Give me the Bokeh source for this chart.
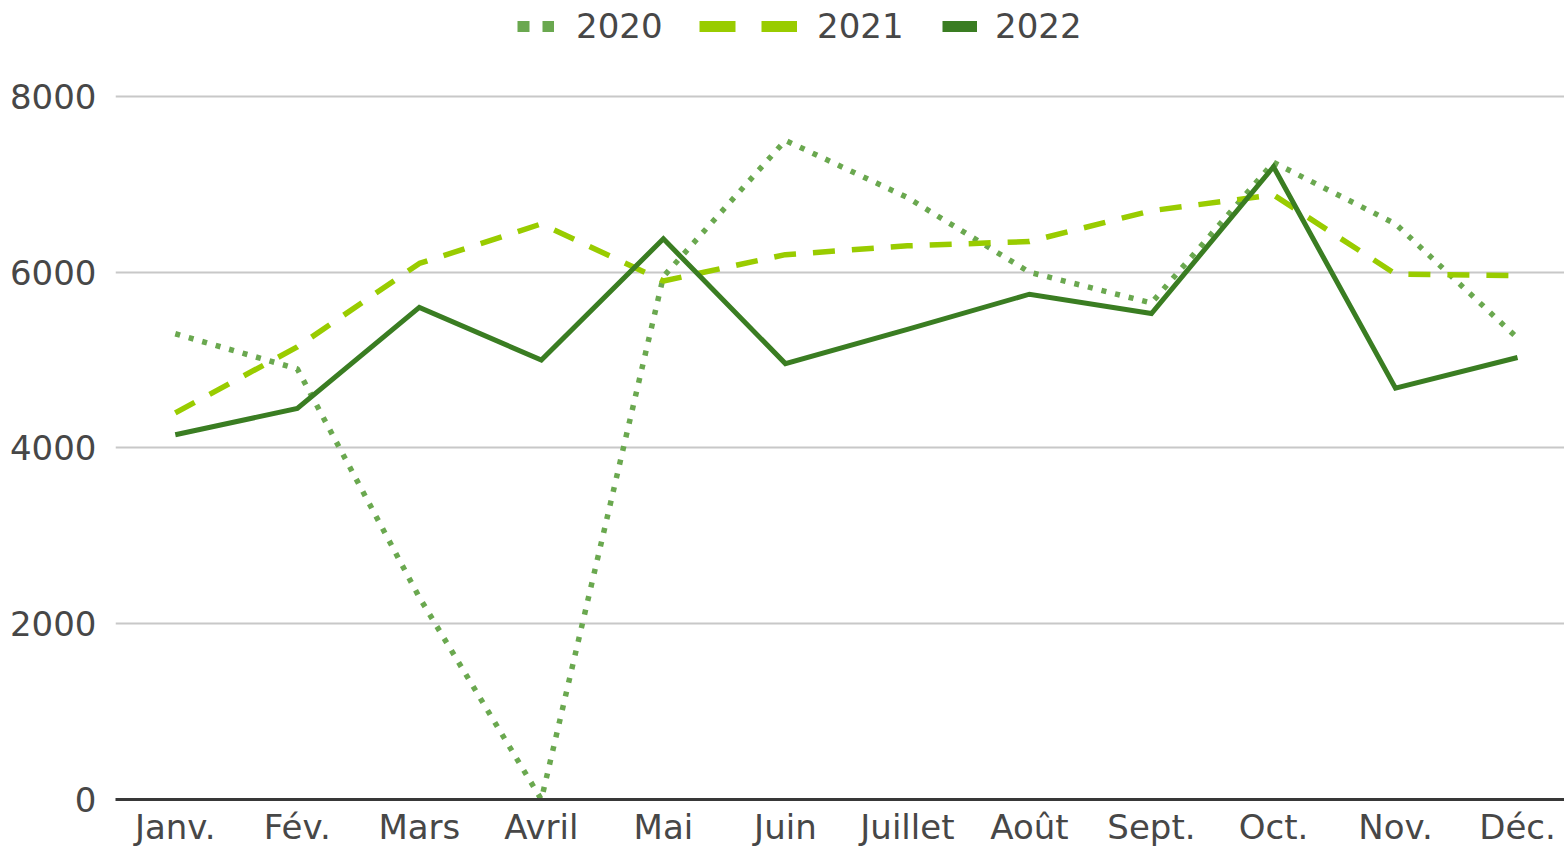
from bokeh.plotting import figure
from bokeh.models import Range1d, FixedTicker, Legend, LegendItem
from bokeh.embed import file_html
from bokeh.resources import INLINE

months = ["Janv.", "Fév.", "Mars", "Avril", "Mai", "Juin", "Juillet", "Août", "Sept.", "Oct.", "Nov.", "Déc."]
y2020 = [5300, 4900, 2300, 0, 5950, 7500, 6850, 6000, 5650, 7250, 6550, 5250]
y2021 = [4400, 5150, 6100, 6550, 5900, 6200, 6300, 6350, 6700, 6880, 5980, 5960]
y2022 = [4150, 4450, 5600, 5000, 6380, 4960, 5350, 5750, 5530, 7200, 4680, 5030]
y_ticks = [0, 2000, 4000, 6000, 8000]
series_names = ["2020", "2021", "2022"]

c2020 = "#6AA84F"
c2021 = "#99CC00"
c2022 = "#3A7D22"
FONT = "DejaVu Sans"
FS = "34px"
TXT = "#474747"

x = list(range(len(months)))

p = figure(width=1564, height=849, output_backend="svg", toolbar_location=None,
           x_range=Range1d(-0.49, 11.385), y_range=Range1d(0, 9092),
           min_border_left=115, min_border_right=0, min_border_top=0, min_border_bottom=0)
p.outline_line_color = None
p.background_fill_color = "white"

r1 = p.line(x, y2020, line_color=c2020, line_width=5.5, line_dash="5 9", line_cap="butt")
r2 = p.line(x, y2021, line_color=c2021, line_width=5.5, line_dash="22 17", line_cap="butt")
r3 = p.line(x, y2022, line_color=c2022, line_width=5, line_join="miter")

# legend proxies (drawn outside the visible range)
l1 = p.line([-20, -19], [-5000, -5000], line_color=c2020, line_width=11, line_dash="12 13")
l2 = p.line([-20, -19], [-5000, -5000], line_color=c2021, line_width=11, line_dash="36 26")
l3 = p.line([-20, -19], [-5000, -5000], line_color=c2022, line_width=11)

# axes
p.xaxis.ticker = FixedTicker(ticks=x)
p.xaxis.major_label_overrides = {i: m for i, m in enumerate(months)}
p.xaxis.axis_line_color = "#383838"
p.xaxis.axis_line_width = 3
p.xaxis.major_tick_line_color = None
p.xaxis.minor_tick_line_color = None
p.xaxis.major_label_standoff = 1
p.xaxis.major_label_text_font = FONT
p.xaxis.major_label_text_font_size = FS
p.xaxis.major_label_text_color = TXT

p.yaxis.ticker = FixedTicker(ticks=y_ticks)
p.yaxis.axis_line_color = None
p.yaxis.major_tick_line_color = None
p.yaxis.minor_tick_line_color = None
p.yaxis.major_label_standoff = 13
p.yaxis.major_label_text_font = FONT
p.yaxis.major_label_text_font_size = FS
p.yaxis.major_label_text_color = TXT

p.xgrid.grid_line_color = None
p.ygrid.ticker = FixedTicker(ticks=y_ticks)
p.ygrid.grid_line_color = "#C8C8C8"
p.ygrid.grid_line_width = 2

def mk_legend(label, rend, xpos, gw, standoff):
    lg = Legend(items=[LegendItem(label=label, renderers=[rend])],
                location=(xpos, 753), orientation="horizontal",
                glyph_width=gw, glyph_height=38, label_standoff=standoff,
                padding=0, margin=0, spacing=0,
                border_line_color=None, background_fill_alpha=0,
                label_text_font=FONT, label_text_font_size=FS,
                label_text_color=TXT, label_height=38)
    p.add_layout(lg, "center")

mk_legend(series_names[0], l1, 517 - 115, 37, 22)
mk_legend(series_names[1], l2, 699 - 115, 98, 20)
mk_legend(series_names[2], l3, 942 - 115, 35, 18)

open("out.html", "w").write(file_html(p, INLINE))
